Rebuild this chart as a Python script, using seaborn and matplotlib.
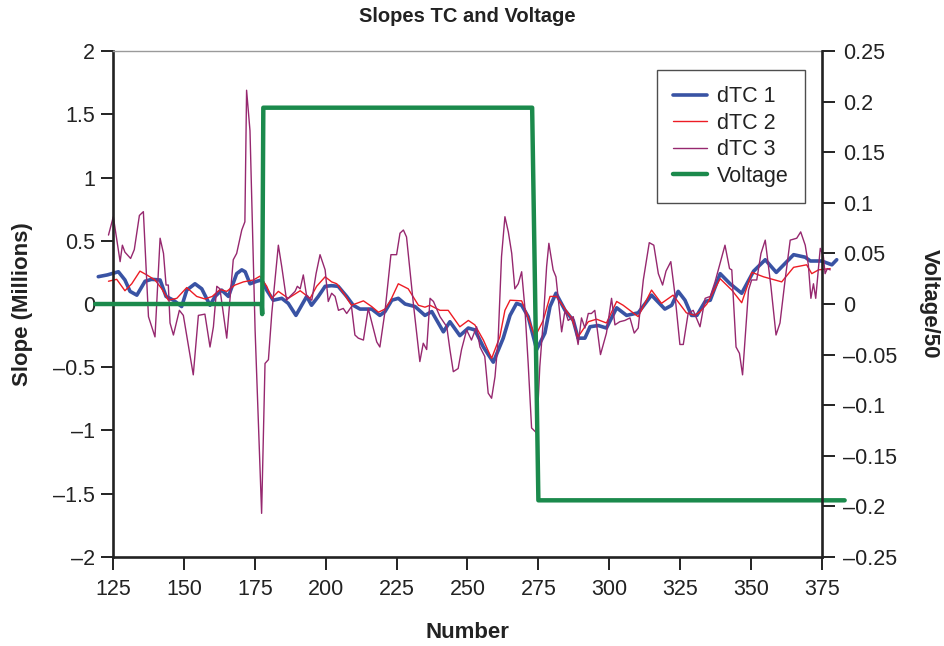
import matplotlib
matplotlib.use("Agg")
import matplotlib.pyplot as plt
from matplotlib.ticker import FuncFormatter, MultipleLocator
import seaborn as sns

# ── Data ──────────────────────────────────────────────────

dtc1_x = [119.8, 123.0, 126.9, 129.2, 131.0, 133.4, 136.3, 138.6, 141.6, 143.7,
          146.3, 149.2, 151.0, 153.9, 156.3, 159.2, 161.0, 163.3, 165.7, 168.6,
          170.4, 171.6, 173.3, 175.7, 177.4, 179.2, 181.5, 184.5, 186.8, 189.5,
          193.3, 195.0, 197.4, 199.8, 202.1, 204.4, 207.4, 209.7, 212.1, 216.2,
          219.1, 220.9, 223.3, 225.6, 228.0, 231.5, 235.0, 237.4, 241.5, 243.8,
          247.3, 250.3, 252.6, 255.6, 259.1, 262.6, 265.0, 267.3, 269.1, 271.4,
          274.4, 277.3, 279.1, 281.2, 284.4, 287.3, 289.0, 291.4, 293.2, 296.1,
          299.0, 302.6, 306.1, 310.2, 314.9, 319.6, 322.0, 324.3, 326.7, 329.0,
          330.9, 333.8, 335.6, 339.1, 342.6, 346.7, 350.9, 355.0, 358.9, 365.0,
          369.1, 370.9, 374.9, 378.5, 380.2]
dtc1_y = [0.216, 0.23, 0.255, 0.19, 0.10, 0.07, 0.18, 0.195, 0.19, 0.06,
          0.03, -0.02, 0.11, 0.16, 0.12, -0.01, 0.06, 0.11, 0.06, 0.24,
          0.27, 0.255, 0.16, 0.18, 0.19, 0.11, 0.03, 0.045, 0.005, -0.09,
          0.06, -0.01, 0.06, 0.14, 0.145, 0.14, 0.06, -0.01, -0.04, -0.04,
          -0.09, -0.06, 0.03, 0.045, 0.0, -0.02, -0.09, -0.06, -0.22, -0.14,
          -0.25, -0.19, -0.205, -0.34, -0.46, -0.27, -0.09, 0.005, -0.01, -0.10,
          -0.36, -0.23, -0.02, 0.085, -0.05, -0.13, -0.27, -0.27, -0.18, -0.17,
          -0.19, -0.03, -0.09, -0.07, 0.07, -0.04, -0.01, 0.10, 0.03, -0.09,
          -0.09, 0.02, 0.03, 0.24, 0.16, 0.085, 0.26, 0.35, 0.25, 0.39,
          0.37, 0.34, 0.34, 0.31, 0.35]

dtc2_x = [123.4, 126.3, 129.2, 131.6, 134.5, 136.9, 139.8, 142.2, 144.5, 147.5,
          151.0, 154.5, 157.4, 160.0, 162.7, 165.1, 168.0, 171.0, 174.5, 176.8,
          179.2, 181.0, 183.3, 186.8, 191.0, 194.5, 196.8, 199.8, 202.1, 203.9,
          206.8, 209.1, 213.3, 216.2, 218.6, 220.9, 222.7, 225.6, 229.1, 232.7,
          235.0, 236.8, 240.3, 243.2, 247.3, 250.3, 252.6, 255.6, 258.5, 261.4,
          263.2, 265.0, 269.1, 270.8, 273.8, 276.7, 279.1, 281.4, 283.8, 286.7,
          289.0, 292.6, 295.5, 299.0, 302.6, 304.9, 310.2, 314.9, 318.4, 322.5,
          327.2, 330.2, 332.0, 334.4, 339.1, 343.2, 346.7, 350.3, 354.4, 360.8,
          365.0, 369.6, 371.4, 373.8, 377.9]
dtc2_y = [0.18, 0.195, 0.105, 0.16, 0.26, 0.23, 0.19, 0.12, 0.03, 0.045,
          0.13, 0.06, 0.04, 0.06, 0.115, 0.10, 0.15, 0.175, 0.19, 0.22,
          0.14, 0.045, 0.10, 0.045, 0.105, 0.045, 0.14, 0.215, 0.175, 0.16,
          0.07, -0.01, 0.025, -0.02, -0.065, -0.04, 0.02, 0.16, 0.12, -0.01,
          -0.025, -0.01, -0.05, -0.05, -0.18, -0.13, -0.165, -0.285, -0.43, -0.26,
          -0.05, 0.03, 0.025, -0.07, -0.26, -0.13, 0.06, 0.06, -0.02, -0.11,
          -0.26, -0.14, -0.12, -0.15, 0.02, -0.01, -0.10, 0.11, 0.005, 0.07,
          -0.07, -0.09, -0.06, 0.0, 0.20, 0.11, 0.01, 0.25, 0.215, 0.175,
          0.29, 0.31, 0.24, 0.27, 0.28]

dtc3_x = [123.4, 125.1, 127.5, 128.3, 129.2, 131.2, 132.5, 134.3, 135.7, 137.5,
          139.8, 141.6, 142.8, 143.7, 144.5, 145.1, 146.3, 148.4, 149.8, 153.3,
          155.1, 157.4, 159.2, 160.4, 161.6, 162.7, 165.1, 167.4, 168.6, 170.4,
          171.5, 172.1, 173.3, 175.1, 177.4, 178.6, 179.8, 181.0, 182.1, 183.3,
          184.5, 186.2, 187.4, 189.2, 190.0, 191.0, 192.1, 193.3, 195.1, 196.6,
          198.0, 199.8, 200.9, 202.1, 203.3, 204.5, 206.2, 207.4, 209.1, 210.3,
          211.5, 213.3, 215.0, 218.0, 219.1, 220.9, 223.0, 225.0, 226.2, 227.4,
          228.5, 230.9, 233.2, 234.4, 235.6, 236.8, 238.0, 240.3, 242.7, 243.8,
          245.0, 246.7, 247.9, 249.7, 251.4, 253.2, 254.4, 256.1, 257.3, 258.5,
          259.7, 260.8, 262.0, 263.2, 264.4, 265.6, 266.7, 267.9, 269.1, 270.2,
          271.4, 272.6, 274.4, 275.5, 276.7, 277.9, 278.7, 280.2, 281.2, 283.2,
          284.4, 285.5, 287.3, 289.0, 290.2, 291.4, 292.6, 293.7, 294.9, 296.9,
          299.0, 300.8, 302.0, 303.7, 305.5, 307.3, 308.8, 310.2, 312.0, 314.1,
          315.7, 317.3, 318.8, 320.0, 321.7, 323.1, 324.9, 326.1, 327.8, 329.6,
          332.0, 333.8, 335.6, 337.3, 340.8, 342.4, 343.2, 344.7, 345.9, 347.0,
          349.1, 350.2, 352.0, 353.5, 355.0, 357.0, 358.8, 360.2, 362.0, 363.8,
          366.1, 367.5, 369.1, 370.2, 371.1, 372.0, 372.8, 374.4, 375.5, 376.1,
          376.9, 377.9]
dtc3_y = [0.545, 0.69, 0.335, 0.465, 0.41, 0.36, 0.43, 0.70, 0.73, -0.10,
          -0.26, 0.52, 0.40, 0.15, 0.15, -0.15, -0.245, -0.05, -0.09, -0.56,
          -0.09, -0.08, -0.34, -0.18, 0.14, 0.12, -0.27, 0.35, 0.40, 0.585,
          0.65, 1.69, 1.37, -0.205, -1.655, -0.47, -0.44, -0.07, 0.19, 0.465,
          0.295, 0.03, 0.06, 0.10, 0.14, 0.12, 0.23, 0.06, 0.03, 0.24,
          0.39, 0.27, 0.02, 0.085, 0.06, -0.05, -0.035, -0.075, -0.02, -0.245,
          -0.27, -0.285, -0.035, -0.30, -0.34, -0.06, 0.39, 0.39, 0.56, 0.585,
          0.53, 0.005, -0.455, -0.31, -0.36, 0.045, 0.02, -0.10, -0.18, -0.36,
          -0.535, -0.51, -0.36, -0.205, -0.285, -0.18, -0.34, -0.415, -0.705, -0.745,
          -0.575, -0.285, 0.375, 0.69, 0.57, 0.40, 0.12, 0.16, 0.255, -0.02,
          -0.47, -0.98, -1.02, -0.495, -0.14, 0.295, 0.48, 0.27, 0.215, -0.22,
          -0.05, -0.13, -0.10, -0.32, -0.11, -0.19, -0.075, -0.075, -0.05, -0.40,
          -0.23, 0.045, -0.165, -0.14, -0.13, -0.11, -0.23, -0.19, 0.19, 0.485,
          0.465, 0.24, 0.15, 0.26, 0.335, 0.085, -0.32, -0.32, -0.075, -0.05,
          -0.18, 0.045, 0.06, 0.175, 0.465, 0.28, 0.27, -0.34, -0.39, -0.56,
          0.11, 0.19, 0.19, 0.40, 0.505, 0.14, -0.245, -0.15, 0.19, 0.505,
          0.52, 0.57, 0.465, 0.31, 0.045, 0.16, 0.045, 0.44, 0.375, 0.24,
          0.28, 0.27]

volt_x = [118.7, 177.4, 177.6, 178.0, 272.8, 275.0, 383.0]
volt_y = [0.0, 0.0, -0.01, 0.194, 0.194, -0.194, -0.194]

x_ticks = [125, 150, 175, 200, 225, 250, 275, 300, 325, 350, 375]
legend_labels = ["dTC 1", "dTC 2", "dTC 3", "Voltage"]

# ── Style ─────────────────────────────────────────────────

sns.set_style("white")
plt.rcParams["font.family"] = ["Liberation Sans", "DejaVu Sans"]

C_BLUE, C_RED, C_PURPLE, C_GREEN = "#3953a4", "#ed1c24", "#96286f", "#1b8a4c"
INK = "#222222"

fig, ax = plt.subplots(figsize=(9.45, 6.46), dpi=100)
fig.subplots_adjust(left=0.1196, right=0.8698, top=0.921, bottom=0.1378)
ax2 = ax.twinx()

line_kw = dict(sort=False, estimator=None, clip_on=False)
sns.lineplot(x=dtc1_x, y=dtc1_y, ax=ax, color=C_BLUE, lw=2.6, label=legend_labels[0], **line_kw)
sns.lineplot(x=dtc2_x, y=dtc2_y, ax=ax, color=C_RED, lw=1.0, label=legend_labels[1], **line_kw)
sns.lineplot(x=dtc3_x, y=dtc3_y, ax=ax, color=C_PURPLE, lw=1.0, label=legend_labels[2], **line_kw)
sns.lineplot(x=volt_x, y=volt_y, ax=ax2, color=C_GREEN, lw=3.2, label=legend_labels[3], **line_kw)

for a in (ax, ax2):
    if a.get_legend() is not None:
        a.get_legend().remove()

# ── Axes, ticks, spines ───────────────────────────────────

ax.set_xlim(125, 375)
ax.set_ylim(-2, 2)
ax2.set_ylim(-0.25, 0.25)
ax.set_xticks(x_ticks)
ax.yaxis.set_major_locator(MultipleLocator(0.5))
ax2.yaxis.set_major_locator(MultipleLocator(0.05))
ax.yaxis.set_major_formatter(FuncFormatter(lambda v, _: f"{v:g}".replace("-", "\u2013")))
ax2.yaxis.set_major_formatter(
    FuncFormatter(lambda v, _: f"{round(v, 2):g}".replace("-", "\u2013")))

tick_kw = dict(direction="out", length=9, width=1.4, labelsize=15.5,
               color=INK, labelcolor=INK)
ax.tick_params(axis="x", pad=7, bottom=True, **tick_kw)
ax.tick_params(axis="y", pad=4, left=True, **tick_kw)
ax2.tick_params(axis="y", pad=6, right=True, **tick_kw)

for side in ("left", "bottom"):
    ax.spines[side].set_color(INK)
    ax.spines[side].set_linewidth(1.9)
ax.spines["top"].set_color("#9a9a9a")
ax.spines["top"].set_linewidth(1.0)
ax.spines["right"].set_visible(False)
for side in ("left", "bottom", "top"):
    ax2.spines[side].set_visible(False)
ax2.spines["right"].set_color(INK)
ax2.spines["right"].set_linewidth(1.9)

# ── Labels ────────────────────────────────────────────────

ax.set_title("Slopes TC and Voltage", fontsize=14.5, fontweight="bold",
             y=1.069, pad=0, va="center", color=INK)
ax.set_xlabel("Number", fontsize=16, fontweight="bold", va="center", color=INK)
ax.xaxis.set_label_coords(0.5, -0.150)
ax.set_ylabel("Slope (Millions)", fontsize=16, fontweight="bold",
              va="center", ha="center", color=INK)
ax.yaxis.set_label_coords(-0.128, 0.5)
ax2.set_ylabel("Voltage/50", fontsize=16, fontweight="bold", rotation=270,
               va="center", ha="center", color=INK)
ax2.yaxis.set_label_coords(1.152, 0.5)

# ── Legend ────────────────────────────────────────────────

handles = ax.get_lines()[:3] + ax2.get_lines()[:1]
leg = ax2.legend(handles, legend_labels,
                 loc="upper right", bbox_to_anchor=(0.976, 0.962), borderaxespad=0,
                 fontsize=15.5, frameon=True, fancybox=False, handlelength=1.6,
                 handletextpad=0.45, labelspacing=0.25, borderpad=0.75)
leg.get_frame().set_edgecolor(INK)
leg.get_frame().set_linewidth(1.0)
for t in leg.get_texts():
    t.set_color(INK)

fig.savefig("out.png", dpi=100)
